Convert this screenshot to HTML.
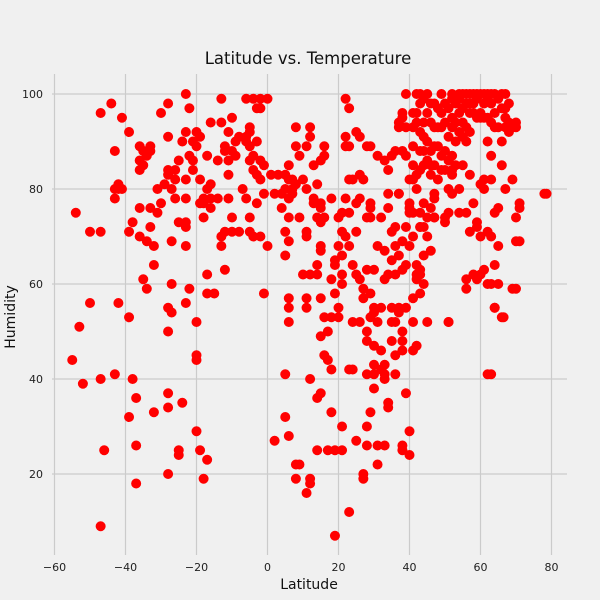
<!DOCTYPE html>
<html><head><meta charset="utf-8"><style>
html,body{margin:0;padding:0;background:#f0f0f0;}
svg{display:block;font-family:"DejaVu Sans","Liberation Sans",sans-serif;}
</style></head><body>
<svg id="chart" width="600" height="600" viewBox="0 0 600 600">
<rect width="600" height="600" fill="#f0f0f0"/>
<g id="grid"></g>
<g id="ticks"></g>
<g id="pts"></g>
<text x="308" y="64" font-size="16.5" text-anchor="middle" fill="#111">Latitude vs. Temperature</text>
<text x="309" y="589" font-size="14" text-anchor="middle" fill="#111">Latitude</text>
<text transform="translate(15,317) rotate(-90)" font-size="14" text-anchor="middle" fill="#111">Humidity</text>
</svg>
<script>
const xTicks = [-60,-40,-20,0,20,40,60,80];
const yTicks = [20,40,60,80,100];
const latitude = [
-55,-54,-53,-52,-50,-50,-47,-47,-47,-46,-47,-44,-43,-43,-43,-42,-42,-43,-42,-41,-41,-39,-39,-38,-39,-38,-39,-37,-37,-37,
-36,-36,-36,-36,-36,-35,-35,-35,-34,-34,-34,-33,-33,-33,-33,-32,-32,-32,-31,-31,-30,-30,-29,-28,-28,-28,-28,-28,-28,-28,
-28,-28,-27,-27,-27,-27,-26,-26,-26,-25,-25,-25,-25,-24,-24,-23,-23,-23,-23,-23,-23,-23,-23,-22,-22,-22,-21,-21,-21,-20,
-20,-20,-20,-20,-20,-19,-19,-19,-19,-18,-18,-18,-18,-17,-17,-17,-17,-17,
-16,-16,-16,-16,-15,-14,-14,-13,-13,-13,-13,-12,-12,-12,-12,-11,-11,-11,-11,-10,-10,-10,-10,-9,-9,-8,-8,-7,-6,-6,-6,-6,
-5,-5,-5,-5,-5,-5,-4,-4,-4,-4,-3,-3,-3,-3,-2,-2,-2,-2,-2,-1,-1,-1,0,0,1,2,2,3,4,4,5,5,5,5,5,5,6,6,6,6,6,6,6,6,6,7,7,7,
8,8,8,8,8,9,9,9,10,10,11,11,11,11,11,11,11,12,12,12,12,12,12,13,13,13,14,14,14,14,14,14,15,15,15,15,15,15,15,15,15,
16,16,16,16,16,17,17,17,18,18,18,18,18,19,19,19,19,19,20,20,20,20,21,21,21,21,21,21,21,22,22,22,22,22,23,23,23,23,23,23,23,
24,24,24,24,25,25,25,25,25,26,26,26,26,26,27,27,27,27,27,28,28,28,28,28,28,28,28,29,29,29,29,29,29,29,30,30,30,30,30,30,30,
31,31,31,31,31,32,32,32,32,33,33,33,33,33,33,33,34,34,34,34,34,34,35,35,35,35,35,35,36,36,36,36,36,36,36,37,37,37,37,37,37,37,
38,38,38,38,38,38,38,38,38,38,39,39,39,39,39,39,39,40,40,40,40,40,
41,41,41,41,41,41,41,41,41,42,42,42,42,42,42,42,42,43,43,43,43,43,43,43,43,43,43,44,44,44,44,44,44,44,45,45,45,45,45,45,
46,46,46,46,46,47,47,47,47,47,47,48,48,48,48,49,49,49,49,49,50,50,50,50,50,50,51,51,51,51,51,51,52,52,52,52,52,52,52,52,
53,53,53,53,54,54,54,54,54,54,55,55,55,55,55,56,56,56,56,56,56,56,57,57,57,57,57,57,58,58,58,58,58,59,59,59,59,59,59,
60,60,60,60,60,60,61,61,61,61,61,61,62,62,62,62,62,62,62,63,63,63,63,63,63,63,64,64,64,64,64,64,65,65,65,65,65,
66,66,66,66,66,67,67,67,67,68,68,68,69,69,69,70,70,70,71,71,78,70,67,
44,45,46,46,47,47,40,40,41,42,43,44,51,63,66.5,64,70,78.6,71
];
const humidity = [
44,75,51,39,71,56,71,96,40,25,9,98,88,78,80,81,80,41,56,80,95,92,71,73,53,40,32,36,26,18,
89,86,84,76,70,88,85,61,87,69,59,89,88,72,76,68,64,33,75,80,96,77,81,98,91,83,84,50,55,37,
34,20,80,60,69,54,82,84,78,86,73,24,25,35,90,100,92,82,78,72,68,73,56,59,97,87,84,86,90,89,
92,52,45,44,29,25,91,77,82,19,74,78,77,62,87,80,23,58,
94,81,76,78,58,86,78,70,99,94,68,89,88,71,63,92,83,78,86,95,88,71,74,90,87,91,71,80,99,91,90,78,
93,92,89,86,74,71,99,87,84,70,97,90,83,77,99,97,86,82,70,85,79,58,68,99,83,27,79,83,79,76,83,80,71,66,41,32,85,82,78,74,69,28,55,52,57,82,80,79,
93,89,81,22,19,87,74,22,82,62,80,71,70,89,55,57,16,93,91,62,40,19,18,85,78,77,25,62,64,74,36,81,86,76,77,67,68,57,49,37,73,
89,87,74,53,45,44,50,25,78,61,53,42,33,64,65,58,7,25,74,68,55,53,75,62,60,66,71,30,25,91,89,78,70,99,97,89,82,75,68,12,42,
82,64,52,42,92,77,71,62,27,91,83,78,61,52,82,57,59,19,20,89,74,63,50,48,41,30,26,89,77,74,76,53,58,33,63,55,54,47,41,43,38,
87,68,52,26,22,74,55,46,42,86,61,67,43,26,41,40,79,76,84,62,35,34,87,71,65,55,52,48,88,72,68,62,52,45,41,79,79,93,94,66,54,55,
95,96,88,69,63,50,48,46,25,26,100,93,87,72,64,55,37,82,77,76,29,24,
96,93,89,85,82,75,57,46,52,100,96,94,83,80,62,61,47,100,98,92,88,84,75,63,62,58,72,99,94,91,88,85,77,60,100,96,90,86,74,52,
98,94,88,85,83,98,93,89,85,78,74,97,93,89,82,100,96,93,87,84,98,94,88,84,74,73,97,91,86,80,75,52,100,99,95,93,87,84,83,79,
98,94,90,85,100,99,96,92,80,75,100,97,94,91,85,100,98,93,90,75,61,59,100,98,96,92,83,71,100,98,96,62,77,100,99,95,72,73,61,
100,96,95,81,70,62,100,98,95,82,80,63,100,99,95,90,71,60,41,100,98,94,87,82,70,60,100,96,93,64,55,75,99,93,76,68,60,
100,97,90,85,53,100,97,93,95,92,98,94,93,82,59,94,74,69,77,76,79,93,80,
72,70,76,67,79,74,68,75,70,64,72,66,52,41,53,55,59,79,69
];
const NS='http://www.w3.org/2000/svg';
const X0=52, X1=567, Y0=74, Y1=555;
function xScale(v){return 267.5 + (v)*3.55;}
function yScale(v){return 569 - v*4.75;}
const grid=document.getElementById('grid');
const ticks=document.getElementById('ticks');
xTicks.forEach(t=>{
  const l=document.createElementNS(NS,'line');
  l.setAttribute('x1',xScale(t));l.setAttribute('x2',xScale(t));
  l.setAttribute('y1',Y0);l.setAttribute('y2',Y1);
  l.setAttribute('stroke','#cbcbcb');l.setAttribute('stroke-width','1.2');
  
  
  grid.appendChild(l);
  const tx=document.createElementNS(NS,'text');
  tx.setAttribute('x',xScale(t));tx.setAttribute('y',571);
  tx.setAttribute('text-anchor','middle');tx.setAttribute('font-size','11');tx.setAttribute('fill','#222');
  tx.textContent=(t<0?'\u2212'+(-t):t);
  
  
  ticks.appendChild(tx);
});
yTicks.forEach(t=>{
  const l=document.createElementNS(NS,'line');
  l.setAttribute('x1',X0);l.setAttribute('x2',X1);
  l.setAttribute('y1',yScale(t));l.setAttribute('y2',yScale(t));
  l.setAttribute('stroke','#cbcbcb');l.setAttribute('stroke-width','1.2');
  
  
  grid.appendChild(l);
  const tx=document.createElementNS(NS,'text');
  tx.setAttribute('x',43);tx.setAttribute('y',yScale(t)+4);
  tx.setAttribute('text-anchor','end');tx.setAttribute('font-size','11');tx.setAttribute('fill','#222');
  tx.textContent=t;
  
  
  ticks.appendChild(tx);
});
const pts=document.getElementById('pts');
const n=Math.min(latitude.length,humidity.length);
for(let i=0;i<n;i++){
  const c=document.createElementNS(NS,'circle');
  c.setAttribute('cx',xScale(latitude[i]));c.setAttribute('cy',yScale(humidity[i]));
  c.setAttribute('r','5');c.setAttribute('fill','#ff0000');
  
  
  pts.appendChild(c);
}
</script>
</body></html>
